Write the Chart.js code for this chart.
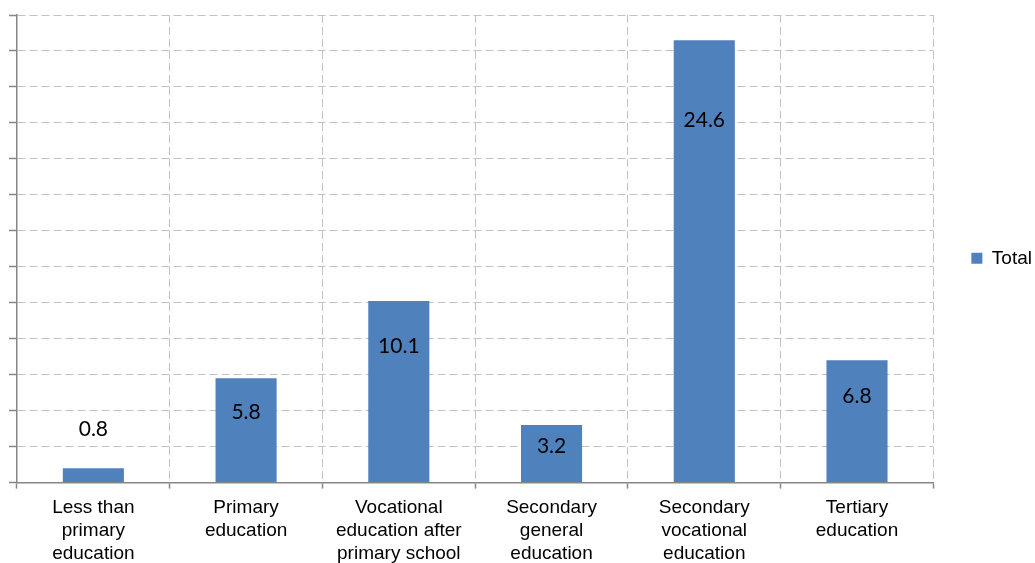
<!DOCTYPE html>
<html>
<head>
<meta charset="utf-8">
<script src="https://cdn.jsdelivr.net/npm/chart.js@4.4.1/dist/chart.umd.min.js"></script>
<style>
html,body{margin:0;padding:0;background:#fff;}
#wrap{width:1035px;height:563px;}
</style>
</head>
<body>
<div id="wrap"><canvas id="c" width="1035" height="563"></canvas></div>
<script>
const categories = [
  ["Less than", "primary", "education"],
  ["Primary", "education"],
  ["Vocational", "education after", "primary school"],
  ["Secondary", "general", "education"],
  ["Secondary", "vocational", "education"],
  ["Tertiary", "education"]
];
const seriesName = "Total";
const totalValues = [0.8, 5.8, 10.1, 3.2, 24.6, 6.8];
const valueLabels = ["0.8", "5.8", "10.1", "3.2", "24.6", "6.8"];

const axisColor = "#868686";
const gridColor = "#c2c2c2";

const barLabelPlugin = {
  id: "barLabels",
  afterDatasetsDraw(chart, args, opts) {
    const ctx = chart.ctx;
    const meta = chart.getDatasetMeta(0);
    ctx.save();
    ctx.font = opts.font;
    ctx.fillStyle = opts.color;
    ctx.textAlign = "center";
    ctx.textBaseline = "middle";
    meta.data.forEach((bar, i) => {
      ctx.fillText(valueLabels[i], bar.x, bar.y + opts.offsets[i]);
    });
    ctx.restore();
  }
};

new Chart(document.getElementById("c"), {
  type: "bar",
  data: {
    labels: categories,
    datasets: [{
      label: seriesName,
      data: totalValues,
      backgroundColor: "#4f81bd",
      borderWidth: 0,
      barPercentage: 0.4,
      categoryPercentage: 1.0
    }]
  },
  options: {
    responsive: false,
    animation: false,
    devicePixelRatio: 1,
    layout: { padding: { left: 9, top: 15, right: -7, bottom: -10 } },
    scales: {
      x: {
        grid: {
          offset: true,
          color: gridColor,
          lineWidth: 1,
          drawTicks: true,
          tickLength: 6,
          tickColor: axisColor,
          tickWidth: 1.5,
          tickBorderDash: []
        },
        border: { display: true, color: axisColor, width: 1.5, dash: [8, 4] },
        ticks: {
          color: "#000",
          padding: 8,
          maxRotation: 0,
          autoSkip: false,
          font: { family: "'Liberation Sans', Arial, sans-serif", size: 19, lineHeight: 1.2 }
        }
      },
      y: {
        min: 0,
        max: 26,
        ticks: { stepSize: 2, display: false },
        grid: {
          color: gridColor,
          lineWidth: 1,
          drawTicks: true,
          tickLength: 8,
          tickColor: axisColor,
          tickWidth: 1.5,
          tickBorderDash: []
        },
        border: { display: true, color: axisColor, width: 1.5, dash: [8, 4] }
      }
    },
    plugins: {
      tooltip: { enabled: false },
      legend: {
        position: "right",
        fullSize: false,
        title: { display: true, text: "", padding: 0, font: { size: 19, lineHeight: 1 } },
        labels: {
          boxWidth: 11,
          boxHeight: 11,
          padding: 38,
          color: "#000",
          font: { family: "'Liberation Sans', Arial, sans-serif", size: 19 }
        }
      },
      barLabels: {
        font: "21px Lato, 'Open Sans', sans-serif",
        color: "#000",
        offsets: [-39, 34, 45, 21, 80, 36]
      }
    }
  },
  plugins: [barLabelPlugin]
});
</script>
</body>
</html>
